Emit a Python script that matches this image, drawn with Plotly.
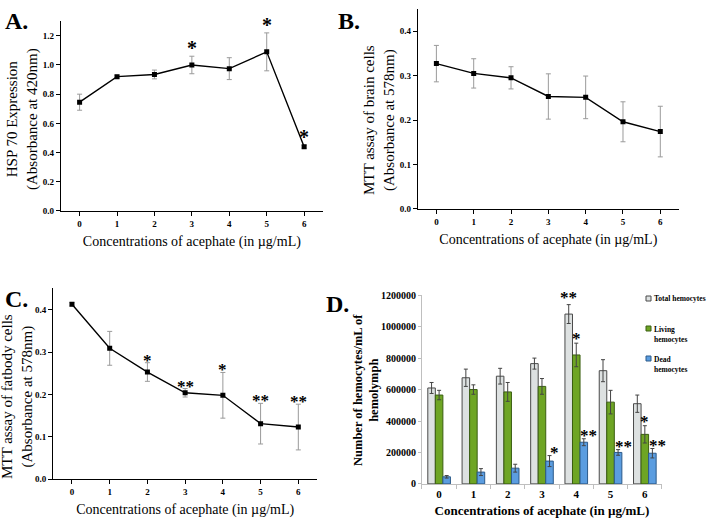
import plotly.graph_objects as go

conc = [0, 1, 2, 3, 4, 5, 6]
conc_labels = ["0", "1", "2", "3", "4", "5", "6"]

# Panel A: HSP70 expression
hsp_mean = [0.745, 0.920, 0.935, 1.000, 0.975, 1.090, 0.440]
hsp_err = [0.055, 0.010, 0.030, 0.060, 0.075, 0.130, 0.010]
hsp_sig = ["", "", "", "*", "", "*", "*"]

# Panel B: MTT brain cells
brain_mean = [0.327, 0.305, 0.295, 0.253, 0.251, 0.196, 0.174]
brain_err = [0.041, 0.033, 0.025, 0.051, 0.048, 0.045, 0.057]

# Panel C: MTT fatbody cells
fat_mean = [0.413, 0.309, 0.253, 0.204, 0.198, 0.131, 0.123]
fat_err = [0.004, 0.040, 0.022, 0.010, 0.054, 0.048, 0.054]
fat_sig = ["", "", "*", "**", "*", "**", "**"]

# Panel D: hemocytes
total_mean = [610000, 675000, 685000, 765000, 1080000, 720000, 510000]
total_err = [35000, 55000, 50000, 35000, 60000, 70000, 55000]
living_mean = [565000, 600000, 585000, 620000, 820000, 520000, 315000]
living_err = [30000, 30000, 60000, 50000, 75000, 75000, 55000]
dead_mean = [45000, 75000, 100000, 145000, 265000, 200000, 195000]
dead_err = [8000, 22000, 25000, 35000, 22000, 18000, 30000]
total_sig = ["", "", "", "", "**", "", ""]
living_sig = ["", "", "", "", "*", "", "*"]
dead_sig = ["", "", "", "*", "**", "**", "**"]

SERIF = "Liberation Serif, Times New Roman, serif"

fig = go.Figure()

def line_trace(y, err, xa, ya):
    return go.Scatter(
        x=conc, y=y, xaxis=xa, yaxis=ya, mode="lines+markers",
        line=dict(color="black", width=1.4),
        marker=dict(symbol="square", size=5, color="black"),
        error_y=dict(type="data", array=err, color="#9a9a9a", thickness=1, width=2.5),
        showlegend=False,
    )

fig.add_trace(line_trace(hsp_mean, hsp_err, "x", "y"))
fig.add_trace(line_trace(brain_mean, brain_err, "x2", "y2"))
fig.add_trace(line_trace(fat_mean, fat_err, "x3", "y3"))

bar_specs = [
    ("Total hemocytes", total_mean, total_err, "#dde1e1", "#4a4a4a"),
    ("Living hemocytes", living_mean, living_err, "#6ea524", "#3b5f12"),
    ("Dead hemocytes", dead_mean, dead_err, "#5b9de0", "#2c5a8a"),
]
for name, m, e, fc, lc in bar_specs:
    fig.add_trace(go.Bar(
        x=conc, y=m, name=name, xaxis="x4", yaxis="y4",
        marker=dict(color=fc, line=dict(color=lc, width=1)),
        error_y=dict(type="data", array=e, color="#444444", thickness=1, width=2),
        showlegend=False,
    ))

tickfont = dict(family=SERIF, size=9, color="black")

def xax(domain, anchor):
    return dict(domain=domain, anchor=anchor, range=[-0.5, 6.5], automargin=False,
                tickvals=conc, ticktext=[f"<b>{t}</b>" for t in conc_labels],
                showline=True, linecolor="black", linewidth=1,
                ticks="outside", ticklen=4, tickcolor="black",
                tickfont=tickfont, showgrid=False, zeroline=False,
                title=dict(text="Concentrations of acephate (in µg/mL)",
                           font=dict(family=SERIF, size=14, color="black"), standoff=8))

def yax(domain, anchor, rng, dtick):
    return dict(domain=domain, anchor=anchor, range=rng, dtick=dtick, tick0=0, automargin=False,
                tickformat=".1f", showline=True, linecolor="black", linewidth=1,
                ticks="outside", ticklen=4, tickcolor="black",
                tickfont=dict(family=SERIF, size=9, color="black", weight="bold"),
                showgrid=False, zeroline=False)

layout = dict(
    width=708, height=530, margin=dict(l=0, r=0, t=0, b=0, autoexpand=False),
    paper_bgcolor="white", plot_bgcolor="white",
    barmode="group", bargap=0.34, bargroupgap=0,
    font=dict(family=SERIF, color="black"),
    showlegend=False,
)
layout["xaxis"] = xax([0.086, 0.456], "y")
layout["yaxis"] = yax([0.602, 0.960], "x", [0, 1.3], 0.2)
layout["xaxis2"] = xax([0.590, 0.959], "y2")
layout["yaxis2"] = yax([0.606, 0.983], "x2", [0, 0.45], 0.1)
layout["xaxis3"] = xax([0.075, 0.448], "y3")
layout["yaxis3"] = yax([0.096, 0.457], "x3", [0, 0.452], 0.1)
layout["xaxis4"] = dict(
    domain=[0.596, 0.935], anchor="y4", range=[-0.5, 6.5], automargin=False,
    tickvals=conc, ticktext=[f"<b>{t}</b>" for t in conc_labels],
    showline=True, linecolor="#bfbfbf", linewidth=1, ticks="", showgrid=False, zeroline=False,
    tickfont=dict(family=SERIF, size=11, color="black"),
    minor=dict(tickvals=[i - 0.5 for i in range(8)], ticks="outside", ticklen=4, tickcolor="#bfbfbf"),
    title=dict(text="<b>Concentrations of acephate (in µg/mL)</b>",
               font=dict(family=SERIF, size=13, color="black"), standoff=6),
)
layout["yaxis4"] = dict(
    domain=[0.087, 0.443], anchor="x4", range=[0, 1200000], dtick=200000, tickformat="d",
    automargin=False,
    showline=True, linecolor="#bfbfbf", linewidth=1, ticks="outside", ticklen=3,
    tickcolor="#bfbfbf", showgrid=False, zeroline=False,
    tickfont=dict(family=SERIF, size=10, color="black", weight="bold"),
)
fig.update_layout(**layout)

ann = []
# y-axis titles
def ytitle(x, y, text, size=14, bold=False):
    t = f"<b>{text}</b>" if bold else text
    ann.append(dict(x=x, y=y, xref="paper", yref="paper", text=t, textangle=-90,
                    showarrow=False, xanchor="center", yanchor="middle",
                    font=dict(family=SERIF, size=size, color="black")))

ytitle(22 / 708, 1 - 119 / 530, "HSP 70 Expression<br>(Absorbance at 420nm)", 15)
ytitle(380 / 708, 1 - 120 / 530, "MTT assay of brain cells<br>(Absorbance at 578nm)", 15)
ytitle(18 / 708, 1 - 397 / 530, "MTT assay of fatbody cells<br>(Absorbance at 578nm)", 15)
ytitle(366 / 708, 1 - 390 / 530, "Number of hemocytes/mL of<br>hemolymph", 12.5, bold=True)

# panel letters
for lab, px, py in [("A.", 3, 21), ("B.", 336, 21), ("C.", 3, 299), ("D.", 324, 304)]:
    ann.append(dict(x=px / 708, y=1 - py / 530, xref="paper", yref="paper", text=f"<b>{lab}</b>",
                    showarrow=False, xanchor="left", yanchor="middle",
                    font=dict(family=SERIF, size=24, color="black")))

# significance stars
def stars(sig, mean, err, xr, yr, dx=0.0, shift=6, size=18, xshift=0):
    for i, s in enumerate(sig):
        if s:
            ann.append(dict(x=conc[i] + dx, y=mean[i] + err[i], xref=xr, yref=yr, text=f"<b>{s}</b>",
                            showarrow=False, xanchor="center", yanchor="bottom",
                            yshift=shift, xshift=xshift,
                            font=dict(family=SERIF, size=size, color="black")))

stars(hsp_sig, hsp_mean, hsp_err, "x", "y", shift=-5, size=20)
stars(fat_sig, fat_mean, fat_err, "x3", "y3", shift=-9, size=17)
bw = 0.219
stars(total_sig, total_mean, total_err, "x4", "y4", dx=-bw, shift=-4, size=17)
stars(living_sig, living_mean, living_err, "x4", "y4", dx=0, shift=-7, size=17)
stars(dead_sig, dead_mean, dead_err, "x4", "y4", dx=bw, shift=-8, size=17, xshift=5)

# legend for panel D
leg = [("Total hemocytes", "#dde1e1", "#4a4a4a", 298),
       ("Living<br>hemocytes", "#6ea524", "#3b5f12", 334),
       ("Dead<br>hemocytes", "#5b9de0", "#2c5a8a", 364)]
shapes = []
for text, fc, lc, py in leg:
    top_py = py if "<br>" not in text else py - 6
    shapes.append(dict(type="rect", xref="paper", yref="paper",
                       x0=646 / 708, x1=651 / 708, y0=1 - (top_py + 3) / 530, y1=1 - (top_py - 2) / 530,
                       fillcolor=fc, line=dict(color=lc, width=1)))
    ann.append(dict(x=652 / 708, y=1 - py / 530, xref="paper", yref="paper", text=f"<b>{text}</b>",
                    showarrow=False, xanchor="left", yanchor="middle", align="left",
                    font=dict(family=SERIF, size=7.5, color="black")))

fig.update_layout(annotations=ann, shapes=shapes)
fig.write_html("out.html", config={"displayModeBar": False},
               post_script="document.body.style.margin='0';")
